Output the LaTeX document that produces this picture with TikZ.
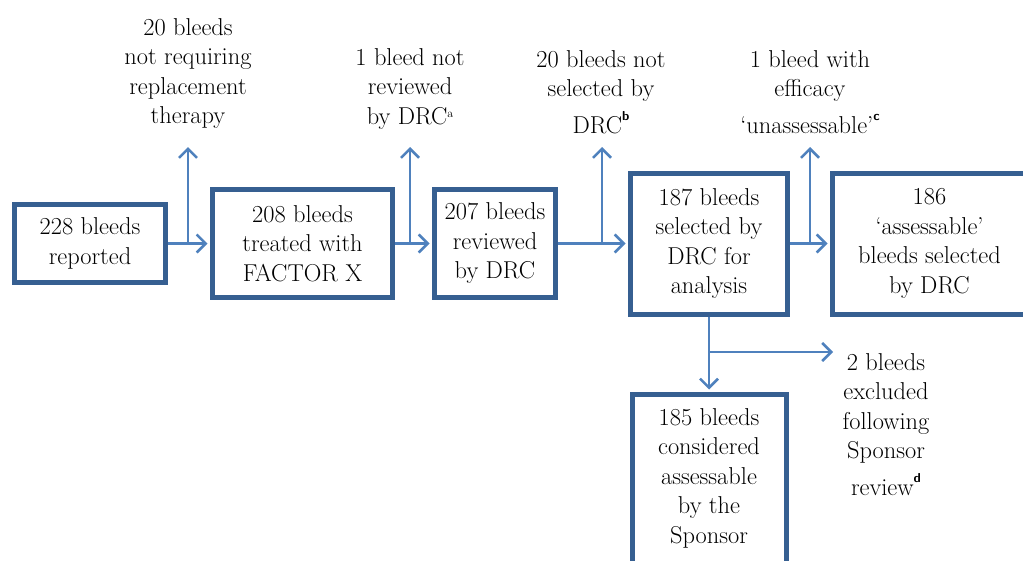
\documentclass[tikz,border=0pt]{standalone}
\usepackage{fontspec}
\usetikzlibrary{arrows.meta}
\definecolor{boxblue}{RGB}{54,95,145}
\definecolor{arrblue}{RGB}{79,129,189}
\newcommand{\supsf}[1]{\raisebox{13pt}{\fontsize{13}{13}\sffamily\bfseries #1}}
\newcommand{\supsr}[1]{\raisebox{7pt}{\fontsize{12}{12}\selectfont #1}}
\begin{document}
\begin{tikzpicture}[x=1pt,y=-1pt,
  box/.style={draw=boxblue, line width=5pt, align=center, inner sep=0pt, font=\fontsize{24.4}{29.5}\selectfont},
  lbl/.style={align=center, inner sep=0pt, anchor=north, font=\fontsize{24.4}{29.5}\selectfont},
  conn/.style={draw=arrblue, line width=2.7pt, -{Straight Barb[length=9pt,width=18pt,line width=2.5pt]}},
  ]
\useasboundingbox (0,0) rectangle (1023,560);
% boxes
\node[box, minimum width=151pt, minimum height=78pt] (b1) at (90,243.5) {228 bleeds\\reported};
\node[box, minimum width=180pt, minimum height=108pt] (b2) at (302.5,243.5) {208 bleeds\\treated with\\FACTOR X};
\node[box, minimum width=121pt, minimum height=108pt] (b3) at (495,243.5) {207 bleeds\\reviewed\\by DRC};
\node[box, minimum width=157pt, minimum height=141pt] (b4) at (709,243.5) {187 bleeds\\selected by\\DRC for\\analysis};
\node[box, minimum width=194pt, minimum height=141pt] (b5) at (929.5,243.5) {186\\‘assessable’\\bleeds selected\\by DRC};
\node[box, minimum width=154pt, minimum height=191pt] (b6) at (709,490) {};
\node[lbl] (b6t) at (709,408) {185 bleeds\\considered\\assessable\\by the\\Sponsor};
% side labels
\node[lbl] (l1) at (188,18) {20 bleeds\\not requiring\\replacement\\therapy};
\node[lbl] (l2) at (410,48) {1 bleed not\\reviewed\\by DRC\supsr{a}};
\node[lbl] (l3) at (601,50) {20 bleeds not\\selected by\\[7pt]DRC\supsf{b}};
\node[lbl] (l4) at (810,50) {1 bleed with\\efficacy\\[7pt]‘unassessable’\supsf{c}};
\node[lbl] (l5) at (886,353) {2 bleeds\\excluded\\following\\Sponsor\\[7.5pt]review\supsf{d}};
% junctions and free ends
\coordinate (j1) at (188,243.5); \coordinate (t1) at (188,147);
\coordinate (j2) at (410,243.5); \coordinate (t2) at (410,147);
\coordinate (j3) at (602,243.5); \coordinate (t3) at (602,147);
\coordinate (j4) at (810,243.5); \coordinate (t4) at (810,147);
\coordinate (j5) at (709,352);   \coordinate (t5) at (833,352);
% connectors
\draw[conn, shorten >=2.5pt] (b1) -- (b2);
\draw[conn, shorten >=2.5pt] (b2) -- (b3);
\draw[conn, shorten >=2.5pt] (b3) -- (b4);
\draw[conn, shorten >=2.5pt] (b4) -- (b5);
\draw[conn, shorten >=2.5pt] (b4) -- (b6);
\draw[conn] (j1) -- (t1);
\draw[conn] (j2) -- (t2);
\draw[conn] (j3) -- (t3);
\draw[conn] (j4) -- (t4);
\draw[conn] (j5) -- (t5);
\end{tikzpicture}
\end{document}
